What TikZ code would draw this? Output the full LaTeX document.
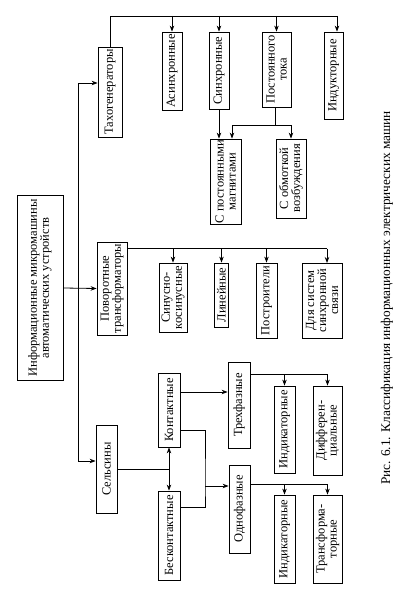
\documentclass[tikz,border=0pt]{standalone}
\usepackage{fontspec}
\setmainfont{Liberation Serif}
\usetikzlibrary{calc,arrows.meta}

\begin{document}
\begin{tikzpicture}[x=1pt, y=-1pt, >={Stealth[length=6pt,width=4.5pt]}, line width=0.8pt,
  box/.style={draw, rotate=90, inner sep=0.5pt, align=center,
    font=\fontsize{12.5}{12}\selectfont}]
  \useasboundingbox (0,0) rectangle (404,596);
  % Root
  \node[box, minimum width=185pt, minimum height=46pt] (main) at (40,288)
    {Информационные микромашины\\автоматических устройств};
  % Tachogenerators
  \node[box, minimum width=90pt, minimum height=24pt] (tacho) at (110,92) {Тахогенераторы};
  \node[box, minimum width=78pt, minimum height=20pt] (async) at (172,71) {Асинхронные};
  \node[box, minimum width=77pt, minimum height=20pt] (sync) at (219,70.5) {Синхронные};
  \node[box, minimum width=75pt, minimum height=29pt] (dc) at (276.5,69.5) {Постоянного\\тока};
  \node[box, minimum width=87pt, minimum height=19pt] (induct) at (333.5,75.5) {Индукторные};
  \node[box, minimum width=85pt, minimum height=31pt] (magnets) at (225.5,181.5)
    {С постоянными\\магнитами};
  \node[box, minimum width=79pt, minimum height=30pt] (excit) at (291,178.5)
    {С обмоткой\\возбуждения};
  % Rotary transformers
  \node[box, minimum width=93pt, minimum height=30pt] (rotary) at (112,288.5)
    {Поворотные\\трансформаторы};
  \node[box, minimum width=69pt, minimum height=28pt] (sincos) at (173,297.5) {Синусно-\\косинусные};
  \node[box, minimum width=64pt, minimum height=14pt] (linear) at (221.5,295) {Линейные};
  \node[box, minimum width=75pt, minimum height=21pt] (builders) at (266.5,300.5) {Построители};
  \node[box, minimum width=75pt, minimum height=40pt] (synclink) at (322,300.5)
    {Для систем\\синхронной\\связи};
  % Selsyns
  \node[box, minimum width=88pt, minimum height=21pt] (sels) at (106.5,469) {Сельсины};
  \node[box, minimum width=74pt, minimum height=22pt] (contact) at (169,410) {Контактные};
  \node[box, minimum width=89pt, minimum height=22pt] (noncontact) at (169,535.5) {Бесконтактные};
  \node[box, minimum width=86pt, minimum height=22pt] (three) at (239,405) {Трехфазные};
  \node[box, minimum width=88pt, minimum height=21pt] (single) at (239.5,509) {Однофазные};
  \node[box, minimum width=87pt, minimum height=21pt] (ind1) at (284.5,429.5) {Индикаторные};
  \node[box, minimum width=89pt, minimum height=29pt] (diff) at (327.5,430.5) {Дифферен-\\циальные};
  \node[box, minimum width=88pt, minimum height=21pt] (ind2) at (284.5,539) {Индикаторные};
  \node[box, minimum width=88pt, minimum height=29pt] (trans) at (327.5,539) {Трансформа-\\торные};
  % Caption
  \node[rotate=90, font=\fontsize{13.3}{15}\selectfont] (cap) at (387,298)
    {Рис. 6.1. Классификация информационных электрических машин};

  % Trunk from the root
  \coordinate (tr) at (78,288);
  \draw[->] (main.south) -- (rotary.north);
  \draw[->] (tr) |- ([yshift=9pt]tacho.north);
  \draw[->] (tr) |- ([yshift=8pt]sels.north);
  % Tachogenerator branches
  \coordinate (tbus) at (337,16);
  \draw (tacho.east) |- (tbus);
  \foreach \n in {async, sync, dc}
    \draw[->] (\n.east |- tbus) -- (\n.east);
  \draw[->] (tbus) -- (tbus |- induct.east);
  \draw[->] (sync.west) -- (sync.west |- magnets.east);
  \coordinate (dbus) at (275,125);
  \coordinate (magin) at ([xshift=6.5pt]magnets.east);
  \draw (dc.west -| dbus) -- (dbus);
  \draw[->] (dbus) -| (magin);
  \draw[->] (dbus) -| (excit.east);
  % Rotary transformer branches
  \coordinate (rb) at ([yshift=40pt]rotary.south);
  \draw (rb) -- (327,248.5);
  \foreach \n in {sincos, linear, builders}
    \draw[->] (\n.east |- rb) -- (\n.east);
  \draw[->] (327,248.5) -- (327,263);
  % Selsyn branches
  \draw (sels.south) -- (sels.south -| contact.west);
  \draw[<->] (contact.west) -- (noncontact.east);
  \draw[->] ([yshift=18pt]contact.south) -- ([yshift=18pt]contact.south -| three.north);
  \coordinate (jn) at (205,486);
  \draw ([yshift=-20pt]contact.south) -| (jn) |- ([yshift=28.5pt]noncontact.south);
  \draw[->] (jn) -- (jn -| single.north);
  \coordinate (tb) at ([yshift=31pt]three.south);
  \draw (tb) -- (tb -| diff.east);
  \foreach \n in {ind1, diff}
    \draw[->] (\n.east |- tb) -- (\n.east);
  \coordinate (sb) at ([yshift=25pt]single.south);
  \draw (sb) -- (sb -| trans.east);
  \foreach \n in {ind2, trans}
    \draw[->] (\n.east |- sb) -- (\n.east);
\end{tikzpicture}
\end{document}
